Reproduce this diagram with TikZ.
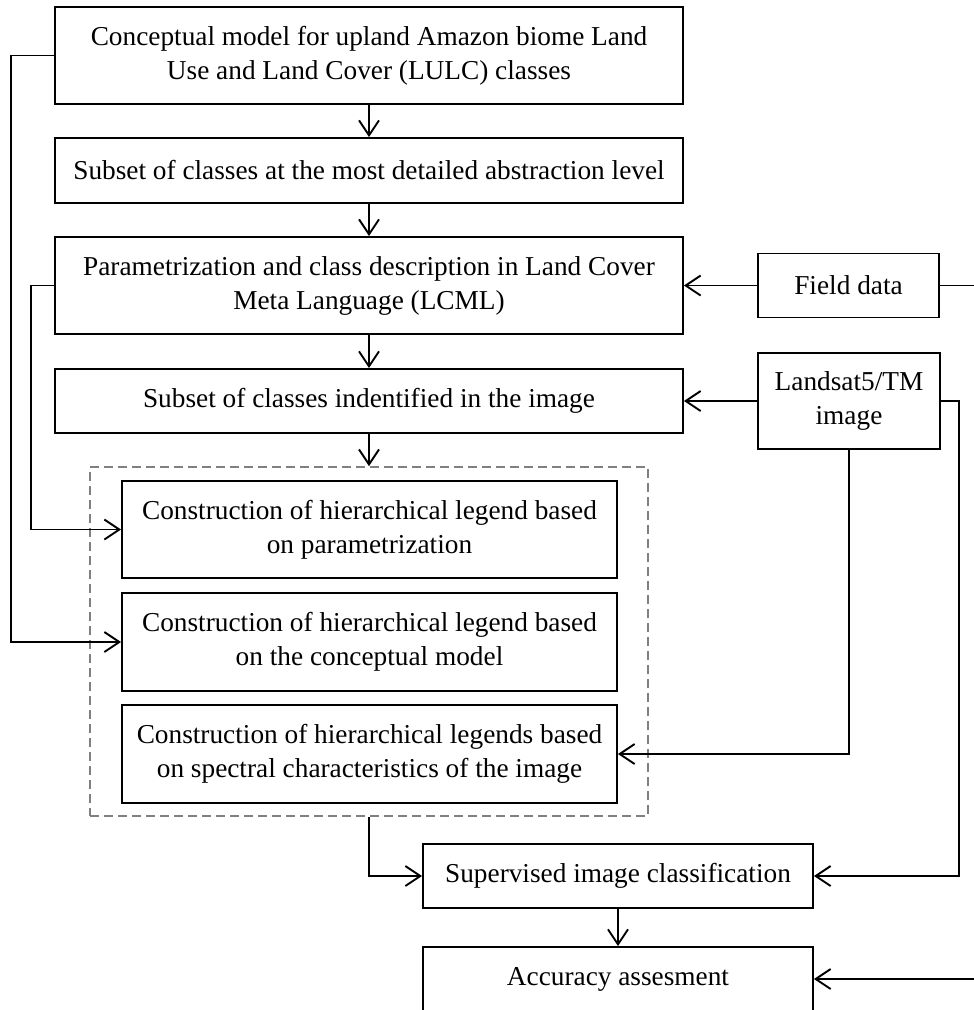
\documentclass[tikz,border=0pt]{standalone}
\usepackage{fontspec}
\setmainfont{Liberation Serif}
\usetikzlibrary{arrows.meta}

\begin{document}
\begin{tikzpicture}[x=1pt,y=-1pt,
  every node/.style={font=\fontsize{27.3}{34}\selectfont},
  box/.style={draw=black,line width=1.9pt,rectangle,inner sep=0pt,align=center},
  group/.style={draw=black!50,line width=1.7pt,dash pattern=on 9pt off 5pt,rectangle,inner sep=0pt},
  link/.style={draw=black,line width=1.9pt},
  arr/.style={link,-{Straight Barb[length=15pt,width=20pt]}}]

\useasboundingbox (0,0) rectangle (974,1010);

% main column
\node[box,minimum width=628pt,minimum height=97pt] (concept) at (369,55.5)
  {Conceptual model for upland Amazon biome Land\\Use and Land Cover (LULC) classes};
\node[box,minimum width=628pt,minimum height=65pt] (detail) at (369,170.5)
  {Subset of classes at the most detailed abstraction level};
\node[box,minimum width=628pt,minimum height=97pt] (param) at (369,285.5)
  {Parametrization and class description in Land Cover\\Meta Language (LCML)};
\node[box,minimum width=628pt,minimum height=64pt] (ident) at (369,401)
  {Subset of classes indentified in the image};

% inputs on the right
\node[box,minimum width=181pt,minimum height=64pt] (field) at (848.5,285.5) {Field data};
\node[box,minimum width=182pt,minimum height=96pt] (landsat) at (849,401) {Landsat5/TM\\image};

% legend group
\node[group,minimum width=558pt,minimum height=349pt] (legends) at (369,641.5) {};
\node[box,minimum width=495pt,minimum height=97pt] (legA) at (369.5,529.5)
  {Construction of hierarchical legend based\\on parametrization};
\node[box,minimum width=495pt,minimum height=98pt] (legB) at (369.5,642)
  {Construction of hierarchical legend based\\on the conceptual model};
\node[box,minimum width=495pt,minimum height=98pt] (legC) at (369.5,754)
  {Construction of hierarchical legends based\\on spectral characteristics of the image};

% classification and assessment
\node[box,minimum width=390pt,minimum height=64pt] (superv) at (618,876)
  {Supervised image classification};
\node[box,minimum width=390pt,minimum height=64pt] (acc) at (618,979)
  {Accuracy assesment};

\coordinate (fieldfar) at (976,285.5);

% vertical flow
\draw[arr] (concept) -- (detail);
\draw[arr] (detail) -- (param);
\draw[arr] (param) -- (ident);
\draw[arr] (ident) -- (legends);
\draw[arr] (superv) -- (acc);

% left-hand feedback lines
\draw[arr] (concept.west) -- ++(-43,0) |- (legB.west);
\draw[arr] (param.west) -- ++(-23,0) |- (legA.west);

% right-hand inputs
\draw[arr] (field.west) -- (param.east);
\draw[arr] (field.east) -- (fieldfar) |- (acc.east);
\draw[arr] (landsat.west) -- (ident.east);
\draw[arr] (landsat.south) |- (legC.east);
\draw[arr] (landsat.east) -- ++(18,0) |- (superv.east);

% legend group into classification
\draw[arr] (legends.south) |- (superv.west);

\end{tikzpicture}
\end{document}
